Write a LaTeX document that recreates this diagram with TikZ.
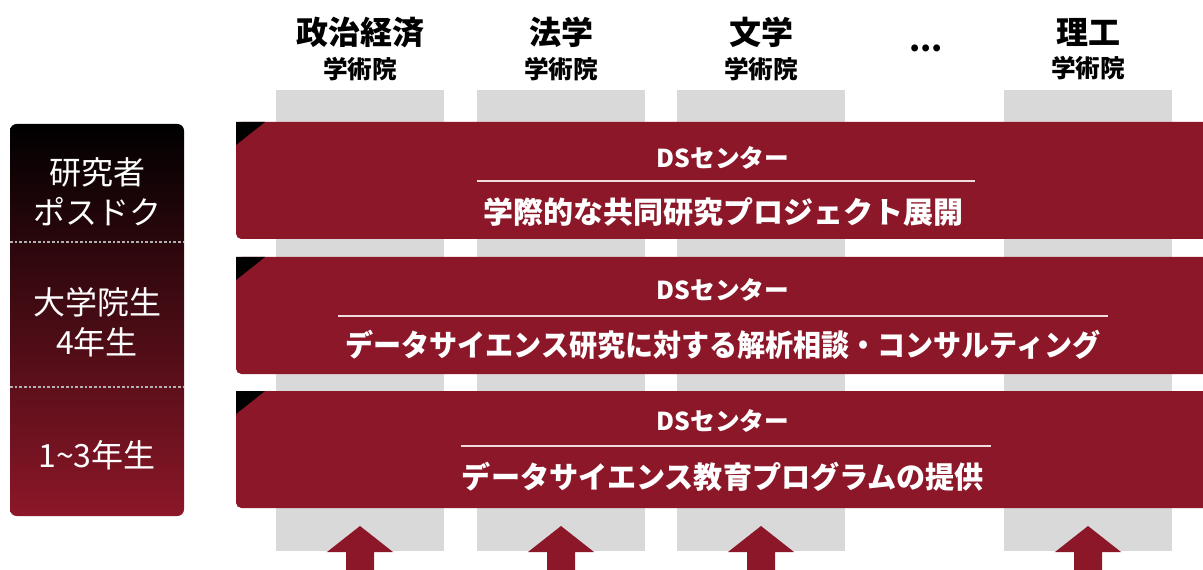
\documentclass[tikz,border=0pt]{standalone}
\usepackage{fontspec}
\usepackage{graphicx}
\setmainfont{Noto Sans CJK JP}
\usetikzlibrary{positioning}
\definecolor{dsred}{RGB}{140,23,40}
\definecolor{colgray}{RGB}{217,217,217}

\begin{document}
\begin{tikzpicture}[
    x=0.75pt, y=-0.75pt,
    faculty/.style={font=\bfseries\fontsize{24}{26}\selectfont, inner sep=0pt},
    school/.style={font=\bfseries\fontsize{18.5}{20}\selectfont, inner sep=0pt},
    column/.style={fill=colgray, minimum width=126pt, minimum height=345.75pt, inner sep=0pt},
    band/.style={fill=dsred, rounded corners=4pt},
    corner/.style={fill=black},
    dstitle/.style={font=\bfseries\fontsize{18.5}{20}\selectfont, text=white, inner sep=0pt},
    service/.style={font=\bfseries\fontsize{22.5}{24}\selectfont, text=white, inner sep=0pt},
    panel/.style={rounded corners=5pt, top color=black, bottom color=dsred, minimum width=130.5pt, minimum height=294pt, inner sep=0pt},
    level/.style={font=\fontsize{24}{30}\selectfont, text=white, align=center, inner sep=0pt},
    sep/.style={draw=gray!60, dash pattern=on 2pt off 1.5pt, line width=0.8pt},
    rule/.style={draw=white!85!dsred, line width=1.5pt},
    uparrow/.style={fill=dsred}
]
\useasboundingbox (0,0) rectangle (1203,570);

% columns behind the bands
\node[column] (col1) at (360,320.5) {};
\node[column] (col2) at (561,320.5) {};
\node[column] (col3) at (761,320.5) {};
\node[column] (col4) at (1087.5,320.5) {};

% faculty headers
\node[faculty] (fa1) at (360,32) {政治経済};
\node[faculty] (fa2) at (561,32) {法学};
\node[faculty] (fa3) at (761,32) {文学};
\node[faculty] (fa4) at (926,48) {...};
\node[faculty] (fa5) at (1088,32) {理工};
\node[school, below=7pt of fa1] (sc1) {学術院};
\node[school, below=7pt of fa2] (sc2) {学術院};
\node[school, below=7pt of fa3] (sc3) {学術院};
\node[school, below=7pt of fa5] (sc5) {学術院};

% level panel
\node[panel] (lv) at (97,320) {};
\draw[sep] (10,242) -- (184,242);
\draw[sep] (10,387) -- (184,387);
\node[level] (lv1) at (97,192) {研究者\\ポスドク};
\node[level] (lv2) at (97,322) {大学院生\\4年生};
\node[level] (lv3) at (97,455) {1\textasciitilde3年生};

% DS center bands
\fill[band] (236,122) rectangle (1215,239);
\fill[corner] (236,122) -- (265,122) -- (236,145) -- cycle;
\node[dstitle] (ds1) at (723,158) {DSセンター};
\draw[rule] (477,181) -- (975,181);
\node[service] (sv1) at (723,212) {学際的な共同研究プロジェクト展開};

\fill[band] (236,257) rectangle (1215,374);
\fill[corner] (236,257) -- (265,257) -- (236,280) -- cycle;
\node[dstitle] (ds2) at (723,290) {DSセンター};
\draw[rule] (338,316) -- (1108,316);
\node[service] (sv2) at (723,345) {\scalebox{0.935}[1]{データサイエンス研究に対する解析相談・コンサルティング}};

\fill[band] (236,391) rectangle (1215,508);
\fill[corner] (236,391) -- (265,391) -- (236,414) -- cycle;
\node[dstitle] (ds3) at (723,421) {DSセンター};
\draw[rule] (461,446) -- (991,446);
\node[service] (sv3) at (723,477) {\scalebox{0.97}[1]{データサイエンス教育プログラムの提供}};

% arrows from below
\fill[uparrow] (360,526) -- (393,552) -- (374,552) -- (374,575) -- (346,575) -- (346,552) -- (327,552) -- cycle;
\fill[uparrow] (561,526) -- (594,552) -- (575,552) -- (575,575) -- (547,575) -- (547,552) -- (528,552) -- cycle;
\fill[uparrow] (761,526) -- (794,552) -- (775,552) -- (775,575) -- (747,575) -- (747,552) -- (728,552) -- cycle;
\fill[uparrow] (1088,526) -- (1121,552) -- (1102,552) -- (1102,575) -- (1074,575) -- (1074,552) -- (1055,552) -- cycle;
\end{tikzpicture}
\end{document}
